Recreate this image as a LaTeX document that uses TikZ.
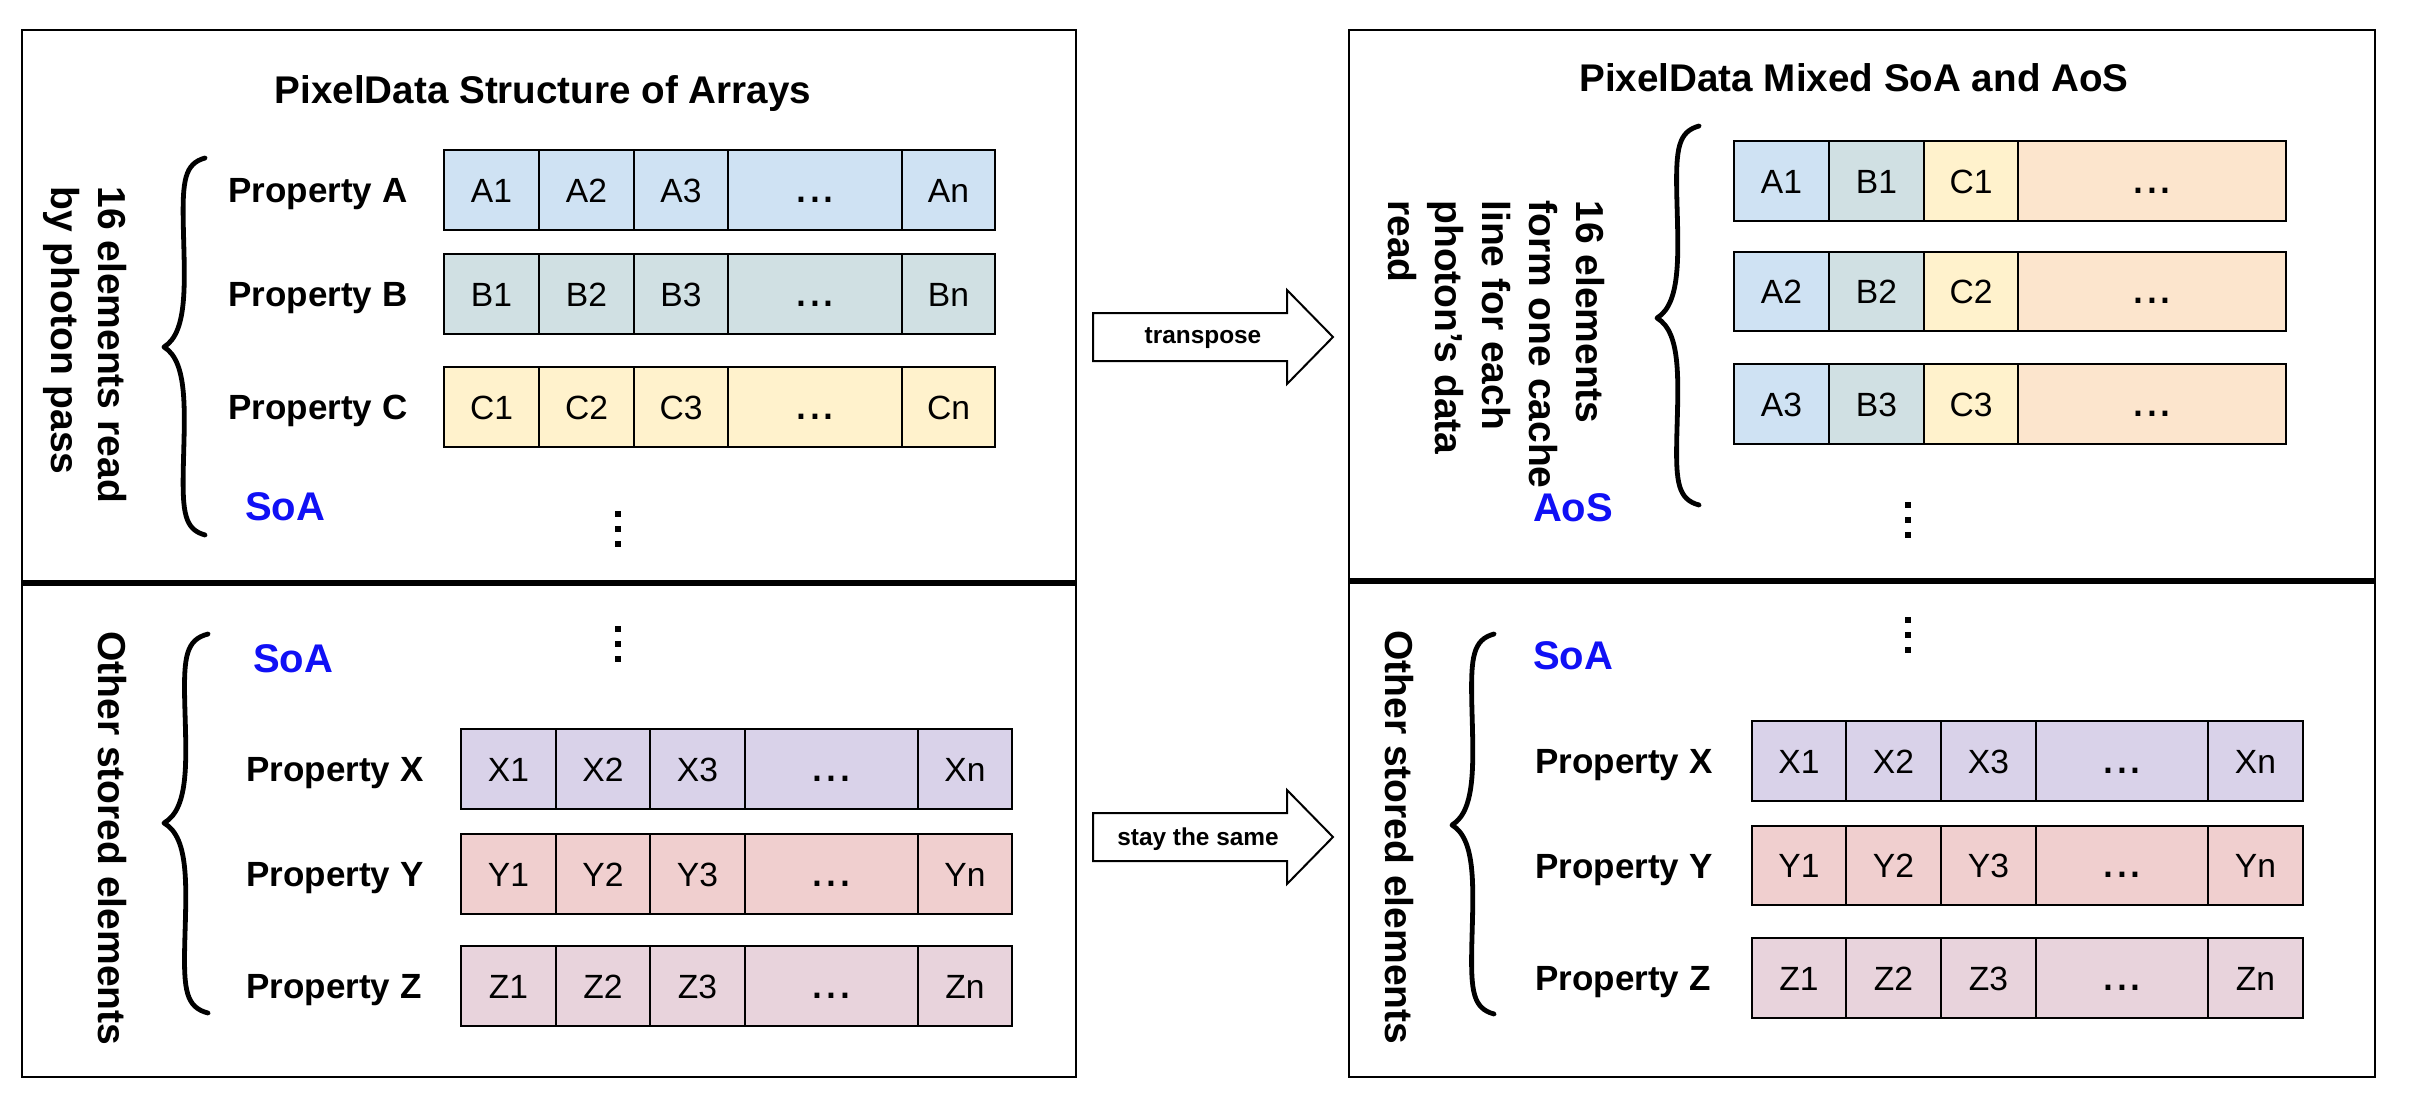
\documentclass[tikz,border=0pt]{standalone}
\usepackage{fontspec}
\setmainfont{Liberation Sans}
\definecolor{cA}{HTML}{CFE2F3}
\definecolor{cB}{HTML}{D0E0E3}
\definecolor{cC}{HTML}{FFF2CC}
\definecolor{cD}{HTML}{FCE5CD}
\definecolor{cX}{HTML}{D9D2E9}
\definecolor{cY}{HTML}{F0CFCF}
\definecolor{cZ}{HTML}{E8D3DC}
\definecolor{soablue}{HTML}{1010F5}
\newcommand{\dd}{{\fontsize{25}{25}\selectfont ...}}
% row of cells: name, y1, y2, xleft, xright, list x1/x2/colour/text
\newcommand{\datarow}[6]{%
  \foreach \xa/\xb/\cc/\txt [count=\i] in {#6} {
    \node[cell, fill=\cc, minimum width={(\xb-\xa)*0.5pt}, minimum height={(#3-#2)*0.5pt}]
      (#1\i) at ({(\xa+\xb)/2},{(#2+#3)/2}) {\txt};
  }
  \draw[rowline] (#4,#2) rectangle (#5,#3);
}
% curly brace: xl, xr, ytop, ybot, ytip
\newcommand{\curlybrace}[5]{%
  \pgfmathsetmacro\brw{#2-#1}
  \pgfmathsetmacro\bru{#5-#3}
  \pgfmathsetmacro\brl{#4-#5}
  \draw[bracestyle] (#2,#3)
     .. controls (#1+0.5*\brw,#3+0.03*\bru) and (#1+0.45*\brw,#3+0.12*\bru) .. (#1+0.47*\brw,#3+0.35*\bru)
     .. controls (#1+0.5*\brw,#5-0.35*\bru) and (#1+0.6*\brw,#5-0.08*\bru) .. (#1,#5)
     .. controls (#1+0.6*\brw,#5+0.08*\brl) and (#1+0.5*\brw,#5+0.35*\brl) .. (#1+0.47*\brw,#4-0.35*\brl)
     .. controls (#1+0.45*\brw,#4-0.12*\brl) and (#1+0.5*\brw,#4-0.03*\brl) .. (#2,#4);
}
% vertical dots: x, ycentre
\newcommand{\vdotsq}[2]{%
  \foreach \dy in {-15,0,15} {\fill (#1-3,#2+\dy-3) rectangle (#1+3,#2+\dy+3);}
}
\begin{document}
\begin{tikzpicture}[x=0.5pt,y=-0.5pt,
  panel/.style={draw=black, line width=1pt},
  divider/.style={line width=2.6pt},
  cell/.style={draw=black, line width=0.7pt, inner sep=0pt, outer sep=0pt,
    font=\fontsize{16.8}{19}\selectfont, text height=12pt, text depth=0pt},
  rowline/.style={draw=black, line width=1.3pt},
  plabel/.style={font=\bfseries\fontsize{17.5}{21}\selectfont, inner sep=0pt,
    text height=12.5pt, text depth=0pt, anchor=west},
  title/.style={font=\bfseries\fontsize{19.3}{23}\selectfont, inner sep=0pt,
    text height=13.8pt, text depth=0pt},
  side/.style={font=\bfseries\fontsize{19.5}{23.5}\selectfont, inner sep=0pt,
    rotate=-90, align=left, anchor=north west},
  soa/.style={font=\bfseries\fontsize{20}{24}\selectfont, text=soablue, inner sep=0pt,
    text height=14.3pt, text depth=0pt},
  bracestyle/.style={line width=2.4pt, line cap=round, line join=round},
  blockarrow/.style={draw=black, fill=white, line width=1pt, line join=miter},
  arrowtext/.style={font=\bfseries\fontsize{12.2}{14}\selectfont, inner sep=0pt}
]
\useasboundingbox (0,0) rectangle (2426,1110);
\fill[white] (0,0) rectangle (2426,1110);

% ---------- left panel ----------
\draw[panel] (22,30) rectangle (1076,1077);
\draw[divider] (22,583) -- (1076,583);
\node[title] (tl) at (543,90) {PixelData Structure of Arrays};

\node[side] (sl1) at (127,186) {16 elements read\\by photon pass};
\curlybrace{164}{205}{158}{535}{347}
\node[soa] (soal1) at (285,506) {SoA};

\node[plabel] (pA) at (228,190) {Property A};
\node[plabel] (pB) at (228,294) {Property B};
\node[plabel] (pC) at (228,407) {Property C};
\datarow{la}{150}{230}{444}{995}{444/539/cA/A1, 539/634/cA/A2, 634/728/cA/A3, 728/902/cA/\dd, 902/995/cA/An}
\datarow{lb}{254}{334}{444}{995}{444/539/cB/B1, 539/634/cB/B2, 634/728/cB/B3, 728/902/cB/\dd, 902/995/cB/Bn}
\datarow{lc}{367}{447}{444}{995}{444/539/cC/C1, 539/634/cC/C2, 634/728/cC/C3, 728/902/cC/\dd, 902/995/cC/Cn}
\vdotsq{618}{529}

\node[side] (sl2) at (127,631) {Other stored elements};
\curlybrace{164}{208}{634}{1013}{823}
\node[soa] (soal2) at (293,658) {SoA};
\vdotsq{618}{644}

\node[plabel] (pX) at (246,769) {Property X};
\node[plabel] (pY) at (246,874) {Property Y};
\node[plabel] (pZ) at (246,986) {Property Z};
\datarow{lx}{729}{809}{461}{1012}{461/556/cX/X1, 556/650/cX/X2, 650/745/cX/X3, 745/918/cX/\dd, 918/1012/cX/Xn}
\datarow{ly}{834}{914}{461}{1012}{461/556/cY/Y1, 556/650/cY/Y2, 650/745/cY/Y3, 745/918/cY/\dd, 918/1012/cY/Yn}
\datarow{lz}{946}{1026}{461}{1012}{461/556/cZ/Z1, 556/650/cZ/Z2, 650/745/cZ/Z3, 745/918/cZ/\dd, 918/1012/cZ/Zn}

% ---------- arrows ----------
\draw[blockarrow] (1093,313) -- (1287,313) -- (1287,290) -- (1333,337) -- (1287,384) -- (1287,361) -- (1093,361) -- cycle;
\node[arrowtext] (tr) at (1203,338) {transpose};
\draw[blockarrow] (1093,813) -- (1287,813) -- (1287,790) -- (1333,837) -- (1287,884) -- (1287,861) -- (1093,861) -- cycle;
\node[arrowtext] (st) at (1198,839) {stay the same};

% ---------- right panel ----------
\draw[panel] (1349,30) rectangle (2375,1077);
\draw[divider] (1349,581) -- (2375,581);
\node[title] (tr2) at (1854,78) {PixelData Mixed SoA and AoS};

\node[side] (sr1) at (1605,200) {16 elements\\form one cache\\line for each\\photon’s data\\read};
\curlybrace{1657}{1699}{126}{505}{318}
\node[soa] (aos) at (1573,507) {AoS};

\datarow{r1}{141}{221}{1734}{2286}{1734/1829/cA/A1, 1829/1924/cB/B1, 1924/2018/cC/C1, 2018/2286/cD/\dd}
\datarow{r2}{252}{331}{1734}{2286}{1734/1829/cA/A2, 1829/1924/cB/B2, 1924/2018/cC/C2, 2018/2286/cD/\dd}
\datarow{r3}{364}{444}{1734}{2286}{1734/1829/cA/A3, 1829/1924/cB/B3, 1924/2018/cC/C3, 2018/2286/cD/\dd}
\vdotsq{1908}{520}

\node[side] (sr2) at (1414,630) {Other stored elements};
\curlybrace{1452}{1494}{634}{1014}{825}
\node[soa] (soar) at (1573,655) {SoA};
\vdotsq{1908}{635}

\node[plabel] (qX) at (1535,761) {Property X};
\node[plabel] (qY) at (1535,866) {Property Y};
\node[plabel] (qZ) at (1535,978) {Property Z};
\datarow{rx}{721}{801}{1752}{2303}{1752/1846/cX/X1, 1846/1941/cX/X2, 1941/2036/cX/X3, 2036/2208/cX/\dd, 2208/2303/cX/Xn}
\datarow{ry}{826}{905}{1752}{2303}{1752/1846/cY/Y1, 1846/1941/cY/Y2, 1941/2036/cY/Y3, 2036/2208/cY/\dd, 2208/2303/cY/Yn}
\datarow{rz}{938}{1018}{1752}{2303}{1752/1846/cZ/Z1, 1846/1941/cZ/Z2, 1941/2036/cZ/Z3, 2036/2208/cZ/\dd, 2208/2303/cZ/Zn}
\end{tikzpicture}
\end{document}
